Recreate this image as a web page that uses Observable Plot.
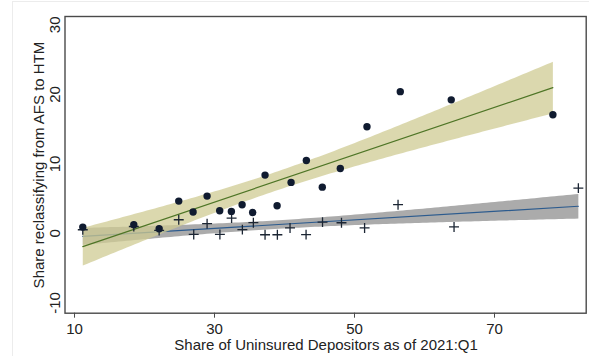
<!DOCTYPE html>
<html>
<head>
<meta charset="utf-8">
<script src="https://cdn.jsdelivr.net/npm/d3@7"></script>
<script src="https://cdn.jsdelivr.net/npm/@observablehq/plot@0.6"></script>
<style>
  html, body { margin: 0; padding: 0; background: #fff; }
  #chart { position: relative; width: 589px; height: 356px; overflow: hidden; }
  #chart svg { position: absolute; left: 0; top: 0; }
  .edge { position: absolute; left: 12px; top: 1px; width: 600px; height: 400px;
          border-left: 1px solid #ececec; border-top: 1px solid #ececec; }
</style>
</head>
<body>
<div id="chart"><div class="edge"></div></div>
<script>
// Binned scatter: share of uninsured depositors (x) vs. share reclassifying AFS -> HTM (y)
const dotX = [11.18, 18.47, 22.09, 24.89, 26.94, 28.94, 30.74, 32.41, 33.94, 35.45,
              37.22, 38.94, 40.94, 43.12, 45.40, 47.97, 51.78, 56.54, 63.82, 78.34];
const dotY = [0.91, 1.25, 0.68, 4.65, 3.09, 5.37, 3.27, 3.17, 4.13, 3.02,
              8.39, 3.99, 7.34, 10.50, 6.66, 9.35, 15.35, 20.39, 19.21, 17.08];

// Comparison group, drawn with "+" markers
const plusX = [11.18, 18.47, 22.09, 24.89, 27.03, 28.94, 30.77, 32.44, 33.98, 35.55,
               37.22, 38.98, 40.79, 43.08, 45.43, 48.14, 51.44, 56.22, 64.22, 81.98];
const plusY = [0.53, 1.00, 0.43, 1.97, -0.14, 1.40, -0.14, 2.20, 0.55, 1.55,
               -0.19, -0.19, 0.79, -0.17, 1.63, 1.54, 0.79, 4.14, 0.94, 6.52];

const xTicks = [10, 30, 50, 70];
const yTicks = [-10, 0, 10, 20, 30];
const xTitle = "Share of Uninsured Depositors as of 2021:Q1";
const yTitle = "Share reclassifying from AFS to HTM";

const dots = dotX.map((x, i) => ({x, y: dotY[i]}));
const plus = plusX.map((x, i) => ({x, y: plusY[i]}));

const W = 589, H = 356;
const mL = 64.5, mR = 3.3, mT = 16, mB = 43.3;

const plot = Plot.plot({
  width: W,
  height: H,
  marginLeft: mL,
  marginRight: mR,
  marginTop: mT,
  marginBottom: mB,
  style: {
    fontFamily: "'Liberation Sans', Arial, sans-serif",
    fontSize: "15px",
    color: "#222",
    background: "transparent",
    overflow: "visible"
  },
  x: {domain: [8.64, 83.1]},
  y: {domain: [-11.47, 31.2]},
  marks: [
    // fitted line with 95% CI band, comparison group
    Plot.linearRegressionY(plus, {x: "x", y: "y", stroke: "#2c5b8e", fill: "#ababab",
      fillOpacity: 1, strokeWidth: 1.2}),
    // fitted line with 95% CI band, main group
    Plot.linearRegressionY(dots, {x: "x", y: "y", stroke: "#4e7526", fill: "#cfcb93",
      fillOpacity: 0.75, strokeWidth: 1.2}),
    Plot.dot(plus, {x: "x", y: "y", symbol: "plus", r: 3.3, stroke: "#1b2533", strokeWidth: 1.3}),
    Plot.dot(dots, {x: "x", y: "y", r: 3.7, fill: "#101b30", stroke: "none"}),
    Plot.frame({stroke: "#4a4a4a", strokeWidth: 1.4}),
    Plot.axisX({ticks: xTicks, tickSize: 5, tickPadding: 5, label: null,
      tickFormat: d => String(d), stroke: "#4a4a4a"}),
    Plot.axisY({ticks: yTicks, tickSize: 0, tickPadding: 5, tickRotate: -90, label: null,
      tickFormat: d => String(d)})
  ]
});

const svg = d3.select(plot);
const plotW = W - mL - mR;
svg.append("text")
  .attr("x", mL + plotW / 2 + 1)
  .attr("y", H - 6.5)
  .attr("text-anchor", "middle")
  .attr("fill", "#222")
  .text(xTitle);
svg.append("text")
  .attr("transform", `translate(${mL - 21},${mT + 149}) rotate(-90)`)
  .attr("text-anchor", "middle")
  .attr("fill", "#222")
  .text(yTitle);

document.getElementById("chart").appendChild(plot);
</script>
</body>
</html>
